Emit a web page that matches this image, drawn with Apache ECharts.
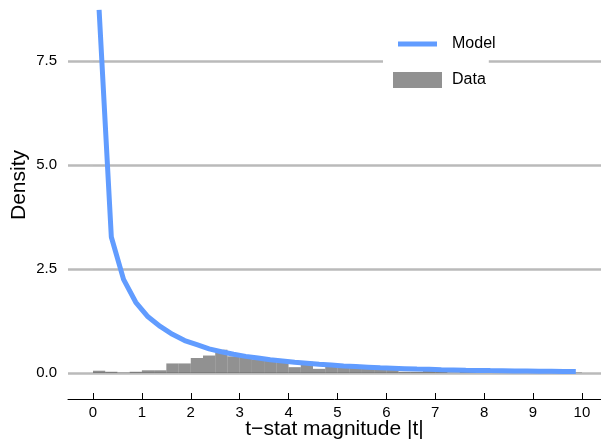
<!DOCTYPE html>
<html>
<head>
<meta charset="utf-8">
<script src="https://cdn.jsdelivr.net/npm/echarts@6/dist/echarts.min.js"></script>
<style>
  html, body { margin: 0; padding: 0; background: #fff; }
  #chart { width: 601px; height: 443px; }
</style>
</head>
<body>
<div id="chart"></div>
<script>
// model curve, sampled at bin midpoints
const modelT = [0.125, 0.375, 0.625, 0.875, 1.125, 1.375, 1.625, 1.875, 2.125, 2.375,
  2.625, 2.875, 3.125, 3.375, 3.625, 3.875, 4.125, 4.375, 4.625, 4.875,
  5.125, 5.375, 5.625, 5.875, 6.125, 6.375, 6.625, 6.875, 7.125, 7.375,
  7.625, 7.875, 8.125, 8.375, 8.625, 8.875, 9.125, 9.375, 9.625, 9.875];
const modelDensity = [8.73, 3.27, 2.25, 1.70, 1.35, 1.12, 0.93, 0.78, 0.68, 0.58,
  0.51, 0.45, 0.40, 0.36, 0.32, 0.29, 0.26, 0.235, 0.21, 0.19,
  0.17, 0.155, 0.14, 0.125, 0.115, 0.105, 0.095, 0.088, 0.08, 0.074,
  0.068, 0.063, 0.058, 0.054, 0.05, 0.047, 0.044, 0.041, 0.038, 0.036];

// histogram of |t|, bin width 0.25
const binStart = [0, 0.25, 0.5, 0.75, 1, 1.25, 1.5, 1.75, 2, 2.25,
  2.5, 2.75, 3, 3.25, 3.5, 3.75, 4, 4.25, 4.5, 4.75,
  5, 5.25, 5.5, 5.75, 6, 6.25, 6.5, 6.75, 7, 7.25,
  7.5, 7.75, 8, 8.25, 8.5, 8.75, 9, 9.25, 9.5, 9.75];
const binDensity = [0.055, 0.03, 0.01, 0.03, 0.065, 0.065, 0.23, 0.23, 0.36, 0.42,
  0.56, 0.40, 0.40, 0.33, 0.33, 0.25, 0.14, 0.27, 0.10, 0.22,
  0.18, 0.18, 0.12, 0.12, 0.09, 0.03, 0.03, 0.05, 0.03, 0.01,
  0.10, 0.03, 0.01, 0.03, 0.03, 0.03, 0.03, 0.03, 0.03, 0.01];
const binWidth = 0.25;

const xTicks = [0, 1, 2, 3, 4, 5, 6, 7, 8, 9, 10];

const FONT = "'Liberation Sans', Arial, sans-serif";
const BLUE = '#619CFF';

const chart = echarts.init(document.getElementById('chart'), null, { renderer: 'canvas' });

const option = {
  animation: false,
  backgroundColor: '#fff',
  textStyle: { fontFamily: FONT },
  grid: { left: 68, right: 0, top: -43, bottom: 70, outerBoundsMode: 'none', containLabel: false },
  xAxis: {
    type: 'value',
    min: -0.511,
    max: 10.39,
    offset: 26,
    axisLine: { show: true, onZero: false, lineStyle: { color: '#000', width: 1 } },
    axisTick: { show: true, inside: true, length: 6, customValues: xTicks, lineStyle: { color: '#000' } },
    axisLabel: { customValues: xTicks, margin: 6, color: '#000', fontSize: 15, fontFamily: FONT },
    splitLine: { show: false },
    name: 't\u2212stat magnitude |t|',
    nameLocation: 'middle',
    nameGap: 20,
    nameMoveOverlap: false,
    nameTextStyle: { color: '#000', fontSize: 21, fontFamily: FONT }
  },
  yAxis: {
    type: 'value',
    min: 0,
    max: 10,
    interval: 2.5,
    axisLine: { show: false },
    axisTick: { show: true, length: 3, lineStyle: { color: '#bdbdbd' } },
    axisLabel: { margin: 11, color: '#000', fontSize: 15, fontFamily: FONT, formatter: v => v.toFixed(1) },
    splitLine: { show: true, lineStyle: { color: '#bababa', width: 2.5 } }
  },
  legend: [
    {
      data: ['Model'],
      left: 383, top: 30,
      padding: [6, 3, 6, 15],
      itemWidth: 39, itemHeight: 5,
      icon: 'rect',
      itemStyle: { color: BLUE },
      backgroundColor: '#fff',
      textStyle: { fontSize: 16, color: '#000', fontFamily: FONT, padding: [0, 0, 0, 10] }
    },
    {
      data: ['Data'],
      left: 383, top: 56,
      padding: [16, 3, 8, 10],
      itemWidth: 49, itemHeight: 16,
      icon: 'rect',
      backgroundColor: '#fff',
      textStyle: { fontSize: 16, color: '#000', fontFamily: FONT, padding: [2, 0, 0, 5] }
    }
  ],
  graphic: [{
    type: 'text',
    x: 19, y: 185,
    rotation: Math.PI / 2,
    style: { text: 'Density', fill: '#000', font: '21px ' + FONT, align: 'center', verticalAlign: 'middle' }
  }],
  series: [
    {
      name: 'Model',
      type: 'line',
      symbol: 'none',
      data: modelT.map((t, i) => [t, modelDensity[i]]),
      lineStyle: { color: BLUE, width: 5 },
      itemStyle: { color: BLUE }
    },
    {
      name: 'Data',
      type: 'custom',
      data: binStart.map((s, i) => [s, s + binWidth, binDensity[i]]),
      encode: { x: [0, 1], y: 2 },
      itemStyle: { color: 'rgba(77,77,77,0.62)' },
      renderItem: (params, api) => {
        const p0 = api.coord([api.value(0), api.value(2)]);
        const p1 = api.coord([api.value(1), 0]);
        return {
          type: 'rect',
          shape: { x: p0[0], y: p0[1], width: p1[0] - p0[0], height: p1[1] - p0[1] },
          style: { fill: 'rgba(77,77,77,0.62)' }
        };
      }
    }
  ]
};

chart.setOption(option);
</script>
</body>
</html>
